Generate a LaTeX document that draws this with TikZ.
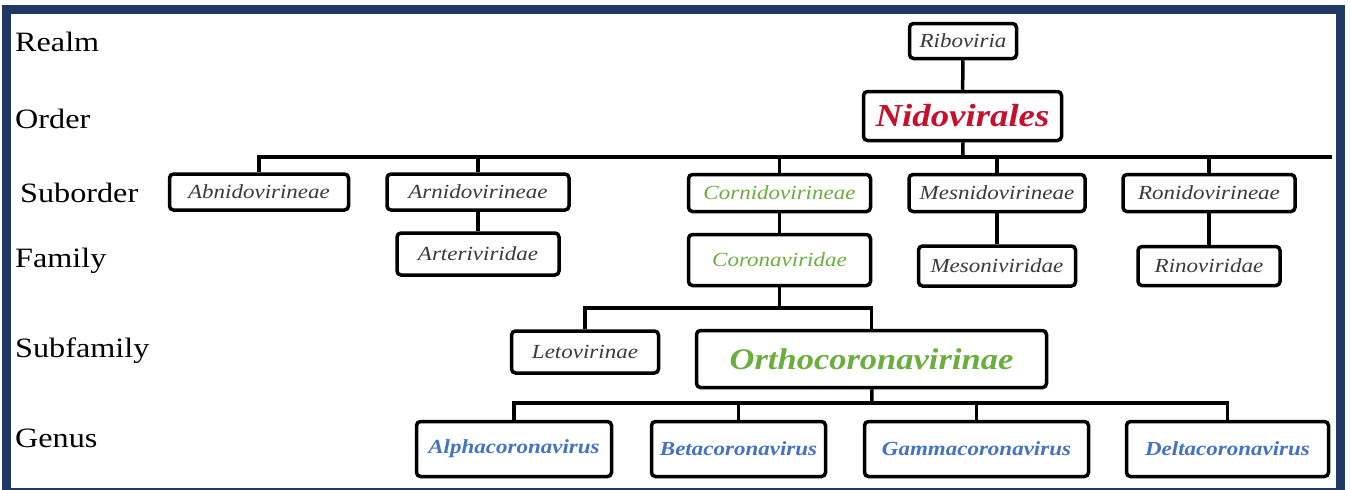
\documentclass[tikz,border=0pt]{standalone}
\usepackage{fontspec}
\setmainfont{Liberation Serif}[FakeStretch=1.15]
\usepackage{tikz}
\definecolor{frameblue}{HTML}{1F3864}
\definecolor{rankgray}{HTML}{3A3A3A}
\definecolor{nidored}{HTML}{C8102E}
\definecolor{corogreen}{HTML}{6AAE3E}
\definecolor{genusblue}{HTML}{4472C4}

\begin{document}
\begin{tikzpicture}[x=1pt, y=-1pt,
    box/.style={rectangle, draw, line width=3.5pt, rounded corners=4pt, fill=white, inner sep=0pt},
    taxon/.style={box, font=\fontsize{20}{24}\selectfont\itshape, text=rankgray},
    coro/.style={taxon, text=corogreen},
    genus/.style={box, font=\fontsize{20}{24}\selectfont\bfseries\itshape, text=genusblue},
    elbow/.style={to path={-| (\tikztotarget)}}]
	\useasboundingbox (0,0) rectangle (1350,490);
	\draw[frameblue, line width=9pt] (6,9) rectangle (1340,492);

	% rank names
	\begin{scope}[every node/.style={anchor=base west, inner sep=0pt, font=\fontsize{28}{32}\selectfont}]
		\node (r1) at (15,51) {Realm};
		\node (r2) at (15,128) {Order};
		\node (r3) at (20,202) {Suborder};
		\node (r4) at (15,267) {Family};
		\node (r5) at (15,357) {Subfamily};
		\node (r6) at (15,447) {Genus};
	\end{scope}

	% taxa
	\node[taxon, minimum width=107pt, minimum height=35pt] (1) at (963,41) {Riboviria};
	\node[box, minimum width=198pt, minimum height=49pt, text=nidored,
	      font=\fontsize{32}{36}\selectfont\bfseries\itshape] (2) at (962.5,116) {Nidovirales};
	\node[taxon, minimum width=179pt, minimum height=36pt] (3) at (259,192) {Abnidovirineae};
	\node[taxon, minimum width=182pt, minimum height=36pt] (4) at (478,192) {Arnidovirineae};
	\node[taxon, minimum width=162pt, minimum height=42pt] (5) at (478,254) {Arteriviridae};
	\node[coro, minimum width=182pt, minimum height=37pt] (6) at (779.5,193) {Cornidovirineae};
	\node[coro, minimum width=182pt, minimum height=51pt] (7) at (779.5,260) {Coronaviridae};
	\node[taxon, minimum width=176pt, minimum height=37pt] (8) at (997,193) {Mesnidovirineae};
	\node[taxon, minimum width=157pt, minimum height=40pt] (9) at (997,266) {Mesoniviridae};
	\node[taxon, minimum width=172pt, minimum height=37pt] (10) at (1209,193) {Ronidovirineae};
	\node[taxon, minimum width=142pt, minimum height=39pt] (11) at (1209,266) {Rinoviridae};
	\node[taxon, minimum width=147pt, minimum height=42pt] (12) at (585,352) {Letovirinae};
	\node[box, minimum width=350pt, minimum height=57pt, text=corogreen,
	      font=\fontsize{30}{34}\selectfont\bfseries\itshape] (13) at (871.5,359) {Orthocoronavirinae};
	\node[genus, minimum width=195pt, minimum height=55pt] (14) at (514,449) {Alphacoronavirus};
	\node[genus, minimum width=174pt, minimum height=55pt] (15) at (738.5,449) {Betacoronavirus};
	\node[genus, minimum width=224pt, minimum height=55pt] (16) at (976.5,449) {Gammacoronavirus};
	\node[genus, minimum width=202pt, minimum height=55pt] (17) at (1227.5,449) {Deltacoronavirus};

	\coordinate (b1) at (963,157);
	\coordinate (e1) at (1332,157);
	\coordinate (b2) at (779.5,308);
	\coordinate (b3) at (872,403);

	% connectors
	\begin{scope}[every edge/.style={draw=black, line width=3.5pt}]
		\path (1) edge (2);
		\path (2) edge (b1);
		\path (b1) edge (e1);
		\path (b1) edge[elbow] (3);
		\path (b1) edge[elbow] (4);
		\path (b1) edge[elbow] (6);
		\path (b1) edge[elbow] (8);
		\path (b1) edge[elbow] (10);
		\path (4) edge (5);
		\path (6) edge (7);
		\path (8) edge (9);
		\path (10) edge (11);
		\path (7) edge (b2);
		\path (b2) edge[elbow] (12);
		\path (b2) edge[elbow] (13);
		\path (13) edge (b3);
		\path (b3) edge[elbow] (14);
		\path (b3) edge[elbow] (15);
		\path (b3) edge[elbow] (16);
		\path (b3) edge[elbow] (17);
	\end{scope}
\end{tikzpicture}
\end{document}
